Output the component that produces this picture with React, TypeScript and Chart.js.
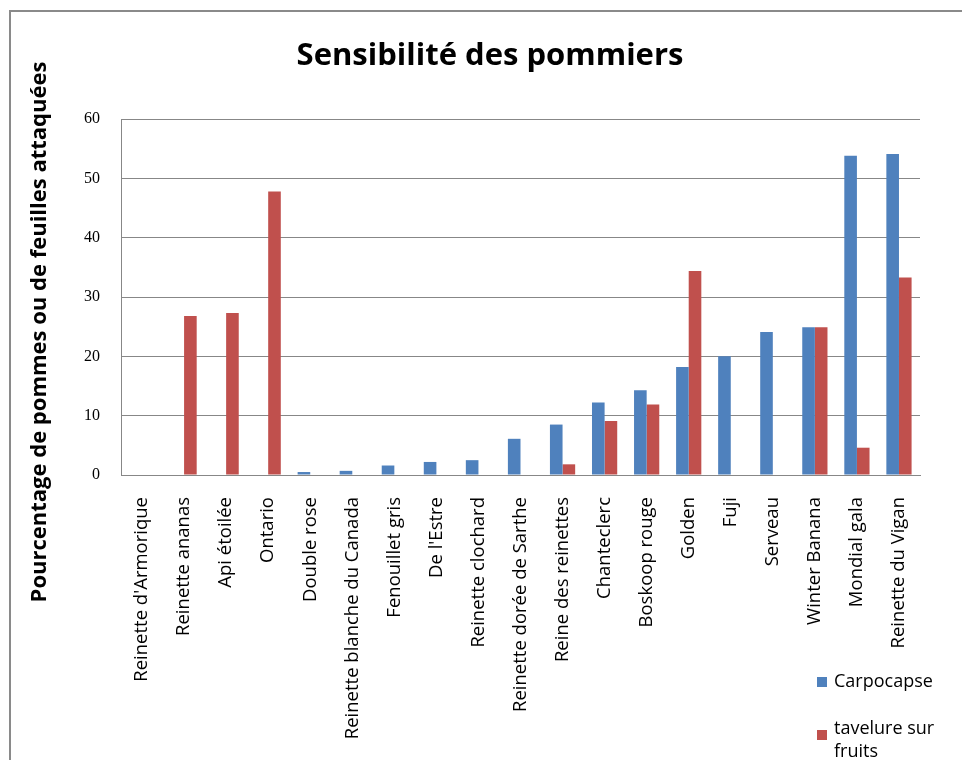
import React, { useEffect, useRef } from "react";
import { Chart, registerables } from "chart.js";

Chart.register(...registerables);

const categories = [
  "Reinette d'Armorique",
  "Reinette ananas",
  "Api étoilée",
  "Ontario",
  "Double rose",
  "Reinette blanche du Canada",
  "Fenouillet gris",
  "De l'Estre",
  "Reinette clochard",
  "Reinette dorée de Sarthe",
  "Reine des reinettes",
  "Chanteclerc",
  "Boskoop rouge",
  "Golden",
  "Fuji",
  "Serveau",
  "Winter Banana",
  "Mondial gala",
  "Reinette du Vigan",
];

const carpocapse = [0, 0, 0, 0, 0.5, 0.7, 1.6, 2.2, 2.5, 6.1, 8.5, 12.2, 14.3, 18.2, 20.0, 24.1, 24.9, 53.8, 54.1];
const tavelure = [0, 26.8, 27.3, 47.8, 0, 0, 0, 0, 0, 0, 1.8, 9.1, 11.9, 34.4, 0, 0, 24.9, 4.6, 33.3];

const seriesNames = ["Carpocapse", "tavelure sur fruits"];
const legendLines = [["Carpocapse"], ["tavelure sur", "fruits"]];
const yTicks = [0, 10, 20, 30, 40, 50, 60];

const chartTitle = "Sensibilité des pommiers";
const yTitle = "Pourcentage de pommes ou de feuilles attaquées";

const BLUE = "#4F81BD";
const RED = "#C0504D";
const GRID = "#878787";
const SANS = "'Open Sans'";

export default function App() {
  const ref = useRef<HTMLCanvasElement>(null);

  useEffect(() => {
    if (!ref.current) return;
    const overlay = {
      id: "overlay",
      beforeDraw(chart: any) {
        const ctx = chart.ctx;
        ctx.save();
        ctx.fillStyle = "#fff";
        ctx.fillRect(0, 0, chart.width, chart.height);
        ctx.strokeStyle = "#8a8a8a";
        ctx.lineWidth = 2;
        ctx.beginPath();
        ctx.moveTo(10, chart.height + 5);
        ctx.lineTo(10, 11);
        ctx.lineTo(chart.width + 5, 11);
        ctx.stroke();
        ctx.restore();
      },
      afterDraw(chart: any) {
        const ctx = chart.ctx;
        ctx.save();
        // y axis title
        ctx.translate(40, 332);
        ctx.rotate(-Math.PI / 2);
        ctx.fillStyle = "#000";
        ctx.font = "bold 22px " + SANS;
        ctx.textAlign = "center";
        ctx.textBaseline = "middle";
        ctx.fillText(yTitle, 0, 0);
        ctx.restore();

        // legend
        ctx.save();
        const boxY = [682, 735];
        const textY = [682, 729];
        chart.data.datasets.forEach((ds: any, i: number) => {
          ctx.fillStyle = ds.backgroundColor;
          ctx.fillRect(817, boxY[i] - 5, 10, 10);
          ctx.fillStyle = "#000";
          ctx.font = "18px " + SANS;
          ctx.textAlign = "left";
          ctx.textBaseline = "middle";
          legendLines[i].forEach((line, j) => {
            ctx.fillText(line, 834, textY[i] + j * 23);
          });
        });
        ctx.restore();
      },
    };

    const chart = new Chart(ref.current, {
      type: "bar",
      data: {
        labels: categories,
        datasets: [
          { label: seriesNames[0], data: carpocapse, backgroundColor: BLUE, categoryPercentage: 0.6, barPercentage: 1 },
          { label: seriesNames[1], data: tavelure, backgroundColor: RED, categoryPercentage: 0.6, barPercentage: 1 },
        ],
      },
      options: {
        responsive: false,
        animation: false,
        devicePixelRatio: 1,
        layout: { padding: { left: 60, right: 42, top: 0, bottom: 0 } },
        plugins: {
          legend: { display: false },
          tooltip: { enabled: false },
          title: {
            display: true,
            text: chartTitle,
            color: "#000",
            font: { family: SANS, size: 31, weight: "bold" },
            padding: { top: 38, bottom: 43.8 },
          },
        },
        scales: {
          x: {
            grid: { display: false, drawTicks: false },
            border: { display: true, color: GRID },
            ticks: {
              autoSkip: false,
              minRotation: 90,
              maxRotation: 90,
              padding: 22,
              color: "#000",
              font: { family: SANS, size: 18.5 },
            },
            afterFit(s: any) {
              s.height = 285;
            },
          },
          y: {
            min: 0,
            max: 60,
            afterBuildTicks(s: any) {
              s.ticks = yTicks.map((v) => ({ value: v }));
            },
            ticks: {
              padding: 21,
              color: "#000",
              font: { family: "Liberation Serif", size: 16 },
            },
            grid: { color: GRID, drawTicks: false },
            border: { color: GRID },
            afterFit(s: any) {
              s.width = 61;
            },
          },
        },
      },
      plugins: [overlay],
    });
    return () => chart.destroy();
  }, []);

  return (
    <div style={{ position: "absolute", left: 0, top: 0, width: 962, height: 760, background: "#fff" }}>
      <canvas ref={ref} width={962} height={760} style={{ display: "block" }} />
    </div>
  );
}
